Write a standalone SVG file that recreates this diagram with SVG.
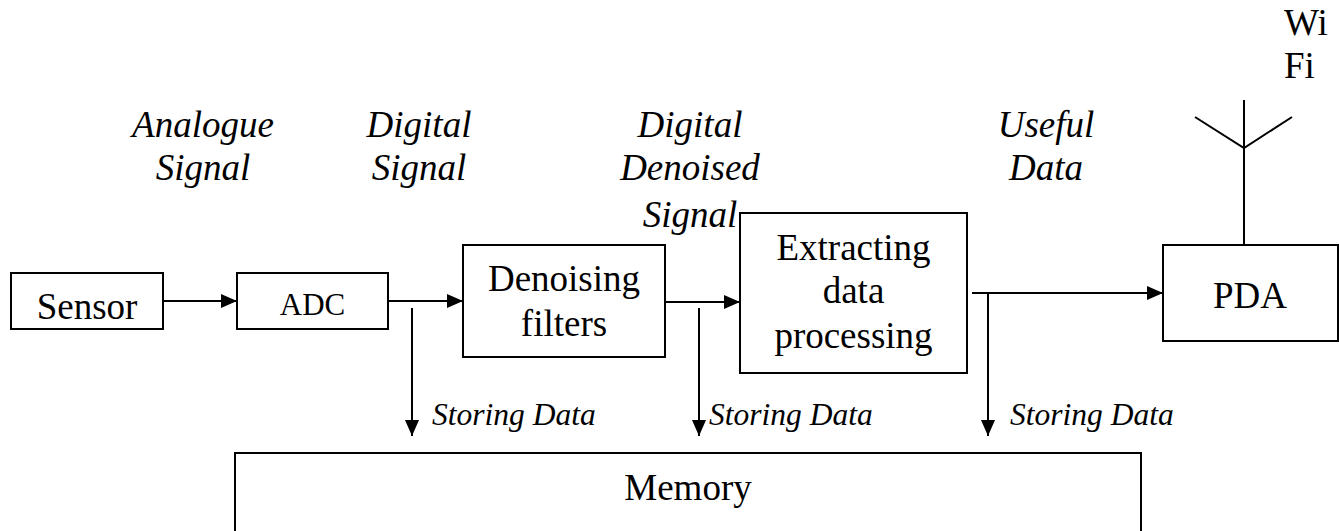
<svg xmlns="http://www.w3.org/2000/svg" width="1339" height="531" viewBox="0 0 1339 531">
  <style>
    .box { fill: #ffffff; stroke: #000000; stroke-width: 2; }
    .ln { fill: none; stroke: #000000; stroke-width: 2; }
    .t { font-family: "Liberation Serif", "Times New Roman", serif; fill: #000000; }
    .big { font-size: 37px; text-anchor: middle; }
    .small { font-size: 31px; text-anchor: middle; }
    .lbl { font-size: 37px; font-style: italic; text-anchor: middle; }
    .store { font-size: 31.5px; font-style: italic; }
    .wifi { font-size: 37px; }
  </style>
  <defs>
    <marker id="arr" markerUnits="userSpaceOnUse" markerWidth="16" markerHeight="14" refX="16" refY="7" orient="auto" viewBox="0 0 16 14">
      <path d="M0,0 L16,7 L0,14 z" fill="#000000"/>
    </marker>
  </defs>
  <rect width="1339" height="531" fill="#ffffff"/>

  <g id="labels">
    <text class="t lbl" x="203" y="137">Analogue</text>
    <text class="t lbl" x="203" y="180">Signal</text>
    <text class="t lbl" x="419" y="137">Digital</text>
    <text class="t lbl" x="419" y="180">Signal</text>
    <text class="t lbl" x="690" y="137">Digital</text>
    <text class="t lbl" x="690" y="180">Denoised</text>
    <text class="t lbl" x="690" y="227">Signal</text>
    <text class="t lbl" x="1046" y="137">Useful</text>
    <text class="t lbl" x="1046" y="180">Data</text>
    <text class="t store" x="432" y="425">Storing Data</text>
    <text class="t store" x="709" y="425">Storing Data</text>
    <text class="t store" x="1010" y="425">Storing Data</text>
  </g>

  <g id="connectors">
    <line class="ln" x1="163" y1="301" x2="237" y2="301" marker-end="url(#arr)"/>
    <line class="ln" x1="388" y1="301" x2="463" y2="301" marker-end="url(#arr)"/>
    <line class="ln" x1="665" y1="302" x2="740" y2="302" marker-end="url(#arr)"/>
    <line class="ln" x1="972" y1="293" x2="1163" y2="293" marker-end="url(#arr)"/>
    <line class="ln" x1="412" y1="308" x2="412" y2="436" marker-end="url(#arr)"/>
    <line class="ln" x1="699" y1="308" x2="699" y2="436" marker-end="url(#arr)"/>
    <line class="ln" x1="988" y1="293" x2="988" y2="436" marker-end="url(#arr)"/>
  </g>

  <g id="sensor">
    <rect class="box" x="11" y="273" width="152" height="56"/>
    <text class="t big" x="87" y="319">Sensor</text>
  </g>
  <g id="adc">
    <rect class="box" x="237" y="273" width="151" height="56"/>
    <text class="t small" x="312.5" y="315">ADC</text>
  </g>
  <g id="denoising">
    <rect class="box" x="463" y="245" width="202" height="112"/>
    <text class="t big" x="564" y="291">Denoising</text>
    <text class="t big" x="564" y="336">filters</text>
  </g>
  <g id="extracting">
    <rect class="box" x="740" y="213" width="227" height="160"/>
    <text class="t big" x="853.5" y="260">Extracting</text>
    <text class="t big" x="853.5" y="303">data</text>
    <text class="t big" x="853.5" y="348">processing</text>
  </g>
  <g id="pda">
    <rect class="box" x="1163" y="245" width="175" height="96"/>
    <text class="t big" x="1250" y="308">PDA</text>
  </g>
  <g id="antenna">
    <line class="ln" x1="1244" y1="100" x2="1244" y2="245"/>
    <polyline class="ln" points="1195,117 1244,148 1292,117"/>
    <text class="t wifi" x="1284" y="35">Wi</text>
    <text class="t wifi" x="1284" y="78">Fi</text>
  </g>
  <g id="memory">
    <rect class="box" x="235" y="453" width="906" height="100"/>
    <text class="t big" x="688" y="500">Memory</text>
  </g>
</svg>
